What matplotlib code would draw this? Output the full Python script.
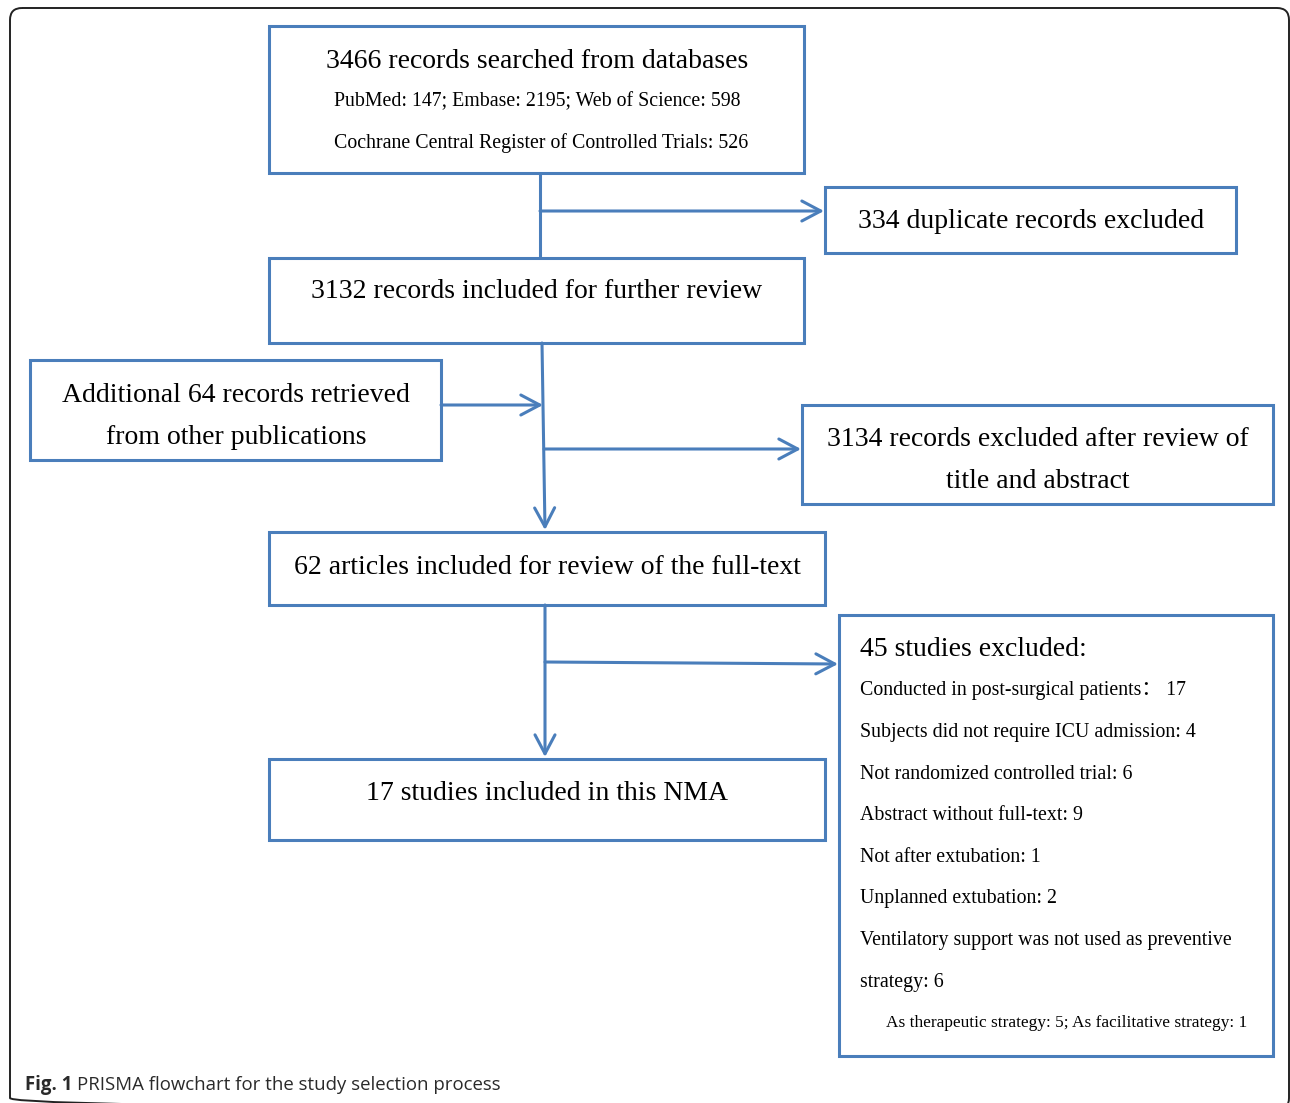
import matplotlib.pyplot as plt
from matplotlib.patches import Rectangle, FancyBboxPatch

plt.rcParams['font.family'] = ['Liberation Serif', 'Noto Sans CJK SC', 'DejaVu Sans']

BLUE = '#4a7ebb'
LW = 2.2

# box texts
top_title = '3466 records searched from databases'
top_sub = ['PubMed: 147; Embase: 2195; Web of Science: 598',
           'Cochrane Central Register of Controlled Trials: 526']
dup_text = '334 duplicate records excluded'
further_text = '3132 records included for further review'
additional_text = ['Additional 64 records retrieved', 'from other publications']
excluded_ta = ['3134 records excluded after review of', 'title and abstract']
fulltext_text = '62 articles included for review of the full-text'
final_text = '17 studies included in this NMA'
excl_title = '45 studies excluded:'
excl_items = ['Conducted in post-surgical patients\uff1a 17',
              'Subjects did not require ICU admission: 4',
              'Not randomized controlled trial: 6',
              'Abstract without full-text: 9',
              'Not after extubation: 1',
              'Unplanned extubation: 2',
              'Ventilatory support was not used as preventive',
              'strategy: 6']
excl_note = 'As therapeutic strategy: 5; As facilitative strategy: 1'
caption_bold = 'Fig. 1'
caption_text = 'PRISMA flowchart for the study selection process'

fig = plt.figure(figsize=(12.9, 11.03), dpi=100)
ax = fig.add_axes([0, 0, 1, 1])
ax.set_xlim(0, 1290)
ax.set_ylim(1103, 0)
ax.axis('off')

# outer frame (bottom edge falls just outside the picture)
ax.add_patch(FancyBboxPatch((10, 8), 1279, 1102, boxstyle='round,pad=0,rounding_size=12',
                            fill=False, ec='#222222', lw=1.4, clip_on=True))


def box(x0, y0, x1, y1):
    ax.add_patch(Rectangle((x0, y0), x1 - x0, y1 - y0, fill=False, ec=BLUE, lw=LW))


def line(xs, ys):
    ax.plot(xs, ys, color=BLUE, lw=LW, solid_capstyle='butt')


def arrow(x0, y0, x1, y1):
    ax.annotate('', xy=(x1, y1), xytext=(x0, y0),
                arrowprops=dict(arrowstyle='->,head_length=0.68,head_width=0.36',
                                color=BLUE, lw=LW, shrinkA=0, shrinkB=0,
                                mutation_scale=20))


def txt(x, y, s, size, ha='center'):
    ax.text(x, y + 2, s, ha=ha, va='center', fontsize=size)


# boxes
box(269, 26, 804, 173)
box(825, 187, 1236, 253)
box(269, 258, 804, 343)
box(30, 360, 441, 460)
box(802, 405, 1273, 504)
box(269, 532, 825, 605)
box(839, 615, 1273, 1056)
box(269, 759, 825, 840)

# connectors
line([540, 540], [173, 258])
arrow(540, 211, 824, 211)
arrow(542, 343, 545, 530)
arrow(441, 405, 543, 405)
arrow(544, 449, 801, 449)
arrow(545, 605, 545, 757)
arrow(545, 662, 838, 664)

big = 20
mid = 14.3

txt(537, 59, top_title, big)
txt(537, 100, top_sub[0], mid)
txt(541, 141, top_sub[1], mid)
txt(1031, 220, dup_text, big)
txt(537, 290, further_text, big)
txt(236, 393, additional_text[0], big)
txt(236, 435, additional_text[1], big)
txt(1038, 438, excluded_ta[0], big)
txt(1038, 479, excluded_ta[1], big)
txt(547, 565, fulltext_text, big)
txt(547, 792, final_text, big)

txt(860, 648, excl_title, big, ha='left')
for i, item in enumerate(excl_items):
    txt(860, 689 + i * 41.6, item, mid, ha='left')
txt(886, 1021, excl_note, 12.4, ha='left')

# caption
t = ax.text(25, 1085, caption_bold + ' ', ha='left', va='center', fontsize=13.4,
            fontweight='bold', family='Open Sans', color='#2a2a2a')
fig.canvas.draw()
bb = t.get_window_extent()
x_next = ax.transData.inverted().transform((bb.x1, bb.y0))[0]
ax.text(x_next, 1085, caption_text, ha='left', va='center', fontsize=13.4,
        family='Open Sans', color='#2a2a2a')

fig.savefig('out.png', dpi=100)
